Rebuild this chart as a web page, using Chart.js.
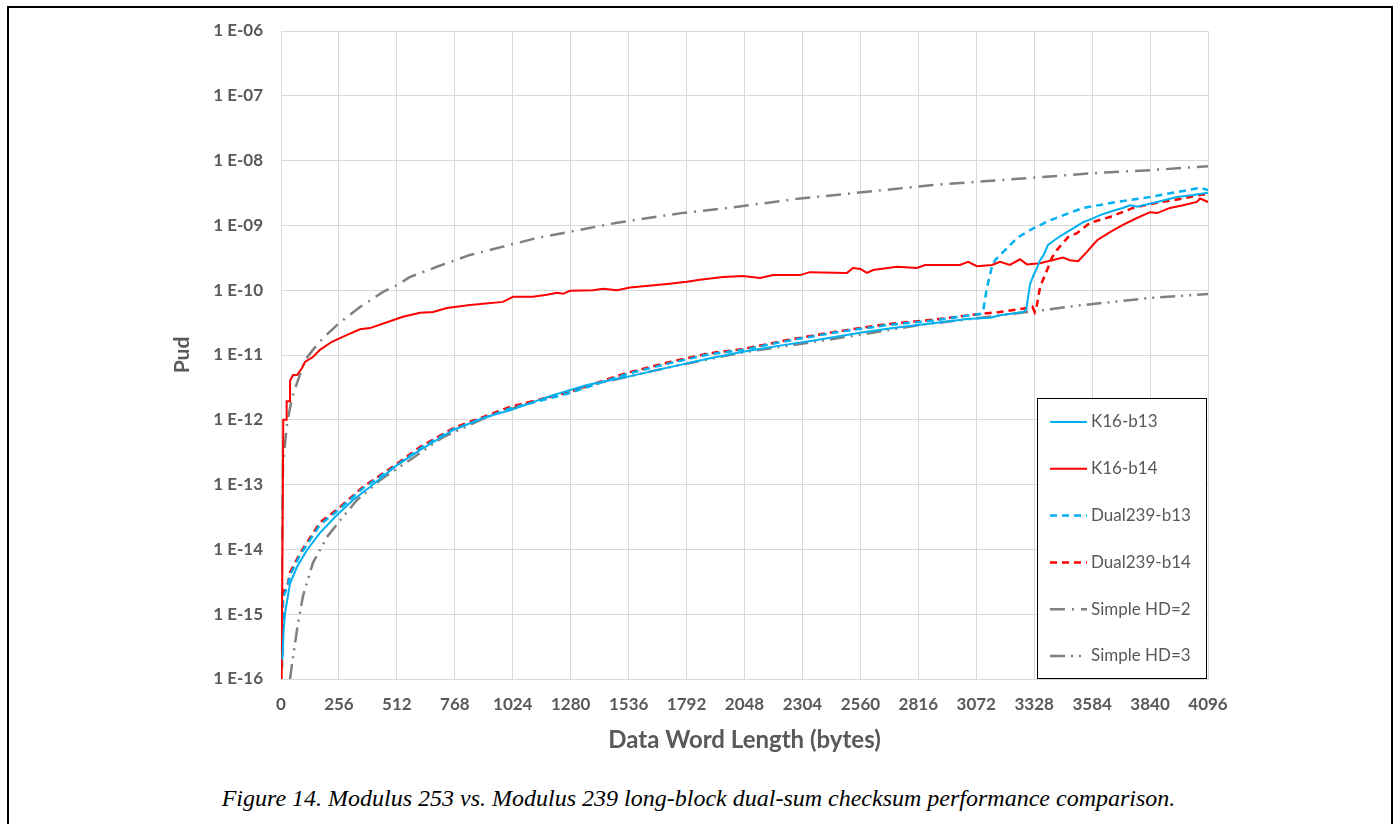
<!DOCTYPE html>
<html>
<head>
<meta charset="utf-8">
<script src="https://cdn.jsdelivr.net/npm/chart.js@4.4.1/dist/chart.umd.min.js"></script>
<style>
  html, body { margin: 0; padding: 0; background: #fff; width: 1397px; height: 824px; overflow: hidden; }
  #frame { position: absolute; left: 7px; top: 6px; width: 1382px; height: 900px; border: 2px solid #000; border-bottom: none; }
  #wrap { position: absolute; left: 0; top: 0; width: 1397px; height: 770px; }
  #caption { position: absolute; left: 0; width: 1397px; top: 785px; text-align: center;
    font-family: "Liberation Serif", "Times New Roman", serif; font-style: italic; font-size: 24px; color: #000; }
</style>
</head>
<body>
<div id="frame"></div>
<div id="wrap"><canvas id="c"></canvas></div>
<div id="caption">Figure 14. Modulus 253 vs. Modulus 239 long-block dual-sum checksum performance comparison.</div>
<script>
// ---------- data ----------
const xTicks = [0,256,512,768,1024,1280,1536,1792,2048,2304,2560,2816,3072,3328,3584,3840,4096];
const xTickLabels = ['0','256','512','768','1024','1280','1536','1792','2048','2304','2560','2816','3072','3328','3584','3840','4096'];
const yTicks = [1e-16,1e-15,1e-14,1e-13,1e-12,1e-11,1e-10,1e-9,1e-8,1e-7,1e-6];
const yTickLabels = ['1 E-16','1 E-15','1 E-14','1 E-13','1 E-12','1 E-11','1 E-10','1 E-09','1 E-08','1 E-07','1 E-06'];
const seriesNames = ['K16-b13','K16-b14','Dual239-b13','Dual239-b14','Simple HD=2','Simple HD=3'];

const k16b13X = [6,12,18,40,71,115,172,247,318,393,513,614,760,893,1012,1202,1352,1529,1719,1896,2041,2218,2368,2558,2704,2881,3031,3133,3177,3279,3293,3300,3310,3325,3340,3354,3370,3389,3420,3451,3500,3544,3580,3619,3680,3720,3750,3782,3871,3959,4030,4096];
const k16b13Y = [2e-16,6e-16,1.05e-15,3.0e-15,5.4e-15,9.8e-15,1.8e-14,3.4e-14,5.8e-14,9.2e-14,2.0e-13,3.4e-13,6.9e-13,1.07e-12,1.4e-12,2.4e-12,3.45e-12,4.6e-12,6.5e-12,8.9e-12,1.12e-11,1.42e-11,1.7e-11,2.2e-11,2.6e-11,3.1e-11,3.6e-11,3.75e-11,4.1e-11,4.6e-11,5.0e-11,7.5e-11,1.25e-10,1.7e-10,2.2e-10,2.9e-10,3.5e-10,5.0e-10,6.0e-10,7.1e-10,9.0e-10,1.12e-9,1.25e-9,1.44e-9,1.7e-9,1.86e-9,2.05e-9,1.95e-9,2.3e-9,2.75e-9,2.95e-9,3.2e-9];

const k16b14X = [3,10,25,25,40,40,53,71,93,106,141,172,225,292,349,393,468,539,614,672,733,835,981,1025,1113,1175,1220,1246,1277,1379,1423,1485,1542,1600,1706,1794,1850,1953,2041,2117,2174,2293,2337,2501,2527,2560,2589,2616,2722,2810,2846,2956,3000,3036,3075,3142,3177,3221,3265,3296,3354,3455,3486,3522,3561,3606,3663,3720,3782,3840,3871,3928,3986,4047,4061,4096];
const k16b14Y = [1e-16,1e-12,1e-12,1.94e-12,1.94e-12,4.0e-12,4.9e-12,4.9e-12,6.3e-12,7.8e-12,9.3e-12,1.2e-11,1.6e-11,2.04e-11,2.5e-11,2.6e-11,3.2e-11,3.9e-11,4.5e-11,4.6e-11,5.3e-11,5.9e-11,6.6e-11,7.9e-11,7.9e-11,8.5e-11,9.1e-11,8.8e-11,9.8e-11,1.0e-10,1.05e-10,1.0e-10,1.1e-10,1.15e-10,1.25e-10,1.35e-10,1.45e-10,1.6e-10,1.65e-10,1.54e-10,1.71e-10,1.71e-10,1.9e-10,1.85e-10,2.2e-10,2.13e-10,1.85e-10,2.05e-10,2.3e-10,2.2e-10,2.45e-10,2.45e-10,2.45e-10,2.75e-10,2.35e-10,2.45e-10,2.75e-10,2.45e-10,3.0e-10,2.5e-10,2.6e-10,3.2e-10,2.9e-10,2.8e-10,3.9e-10,5.9e-10,7.9e-10,1.02e-9,1.3e-9,1.6e-9,1.55e-9,1.86e-9,2.05e-9,2.3e-9,2.6e-9,2.3e-9];

const dual13X = [4,9,31,40,84,172,247,362,513,614,760,1012,1277,1529,1719,1896,2041,2236,2439,2678,2881,3000,3089,3102,3110,3120,3140,3155,3177,3210,3252,3310,3398,3544,3694,3840,3986,4061,4096];
const dual13Y = [1.5e-16,1.8e-15,2.8e-15,4.0e-15,8.2e-15,2.4e-14,3.9e-14,8.8e-14,2.0e-13,3.6e-13,7.1e-13,1.5e-12,2.6e-12,5.1e-12,7.5e-12,1.03e-11,1.2e-11,1.65e-11,2.2e-11,2.9e-11,3.4e-11,3.9e-11,4.3e-11,4.6e-11,7e-11,1.12e-10,2.2e-10,2.9e-10,3.5e-10,4.5e-10,6.4e-10,8.5e-10,1.2e-9,1.86e-9,2.3e-9,2.75e-9,3.4e-9,3.8e-9,3.5e-9];

const dual14X = [4,9,31,40,84,172,247,362,513,614,760,1012,1277,1529,1719,1896,2041,2236,2439,2678,2881,3089,3177,3296,3320,3330,3340,3354,3385,3407,3429,3478,3517,3575,3663,3765,3871,3986,4061,4096];
const dual14Y = [1.5e-16,2.1e-15,3.0e-15,4.4e-15,8.7e-15,2.6e-14,4.1e-14,9.2e-14,2.1e-13,3.8e-13,7.4e-13,1.58e-12,2.7e-12,5.3e-12,7.8e-12,1.07e-11,1.23e-11,1.7e-11,2.25e-11,3.0e-11,3.5e-11,4.3e-11,4.6e-11,5.3e-11,5.6e-11,4.6e-11,5.9e-11,1.12e-10,2.05e-10,3.2e-10,4.2e-10,6.6e-10,7.6e-10,1.1e-9,1.35e-9,1.86e-9,2.24e-9,2.6e-9,2.96e-9,3.0e-9];

const hd2X = [1,2,4,9,27,49,75,106,141,186,261,349,451,513,570,689,835,981,1131,1277,1485,1776,1997,2293,2589,2881,3177,3619,3840,4096];
const hd2Y = [5e-16,2e-15,9.8e-15,2.1e-13,8.9e-13,2.2e-12,4.1e-12,8.3e-12,1.2e-11,1.83e-11,3.2e-11,5.5e-11,9.4e-11,1.2e-10,1.6e-10,2.3e-10,3.5e-10,4.7e-10,6.4e-10,8.0e-10,1.1e-9,1.56e-9,1.9e-9,2.6e-9,3.3e-9,4.2e-9,5.0e-9,6.5e-9,7.1e-9,8.2e-9];

const hd3X = [40,44,71,97,141,203,261,336,437,570,716,910,1131,1423,1719,2041,2307,2558,2823,3075,3296,3544,3840,4096];
const hd3Y = [1e-16,1.3e-16,5.8e-16,1.9e-15,6.2e-15,1.55e-14,2.8e-14,5.8e-14,1.17e-13,2.4e-13,5.4e-13,1.1e-12,2.0e-12,3.8e-12,6.5e-12,1.1e-11,1.5e-11,2.05e-11,2.9e-11,3.7e-11,4.6e-11,5.9e-11,7.6e-11,8.7e-11];

// ---------- helpers ----------
const pts = (xs, ys) => xs.map((x, i) => ({ x: x, y: ys[i] }));
const BLUE = '#00B0F0', RED = '#FF0000', GRAY = '#808080', TXT = '#595959';

const datasets = [
  { label: seriesNames[0], data: pts(k16b13X, k16b13Y), borderColor: BLUE, borderWidth: 2, borderDash: [] },
  { label: seriesNames[1], data: pts(k16b14X, k16b14Y), borderColor: RED, borderWidth: 2, borderDash: [] },
  { label: seriesNames[2], data: pts(dual13X, dual13Y), borderColor: BLUE, borderWidth: 2.5, borderDash: [7, 5] },
  { label: seriesNames[3], data: pts(dual14X, dual14Y), borderColor: RED, borderWidth: 2.5, borderDash: [7, 5] },
  { label: seriesNames[4], data: pts(hd2X, hd2Y), borderColor: GRAY, borderWidth: 2.5, borderDash: [15, 7, 2, 7] },
  { label: seriesNames[5], data: pts(hd3X, hd3Y), borderColor: GRAY, borderWidth: 2.5, borderDash: [15, 6, 2, 6, 2, 6] }
].map(d => Object.assign(d, { pointRadius: 0, tension: 0, fill: false, backgroundColor: d.borderColor }));

// custom boxed legend inside the plot area
const boxLegend = {
  id: 'boxLegend',
  afterDatasetsDraw(chart) {
    const ctx = chart.ctx, a = chart.chartArea;
    const x0 = a.right - 171, y0 = a.bottom - 281, w = 169, h = 280;
    ctx.save();
    ctx.fillStyle = '#fff';
    ctx.fillRect(x0, y0, w, h);
    ctx.strokeStyle = '#000';
    ctx.lineWidth = 1;
    ctx.strokeRect(x0 + 0.5, y0 + 0.5, w, h);
    ctx.font = '17px Lato';
    ctx.textBaseline = 'middle';
    chart.data.datasets.forEach((ds, i) => {
      const y = y0 + 24 + i * 46.8;
      ctx.strokeStyle = ds.borderColor;
      ctx.lineWidth = ds.borderWidth;
      ctx.setLineDash(ds.borderDash);
      ctx.beginPath();
      ctx.moveTo(x0 + 13, y);
      ctx.lineTo(x0 + 50, y);
      ctx.stroke();
      ctx.setLineDash([]);
      ctx.fillStyle = TXT;
      ctx.fillText(ds.label, x0 + 54, y);
    });
    ctx.restore();
  }
};

Chart.defaults.font.family = 'Lato';
Chart.defaults.color = TXT;

new Chart(document.getElementById('c'), {
  type: 'line',
  data: { datasets: datasets },
  plugins: [boxLegend],
  options: {
    responsive: true,
    maintainAspectRatio: false,
    animation: false,
    layout: { padding: { left: 160, top: 31, right: 189, bottom: 10 } },
    plugins: { legend: { display: false }, tooltip: { enabled: false } },
    scales: {
      x: {
        type: 'linear', min: 0, max: 4096,
        afterBuildTicks: s => { s.ticks = xTicks.map(v => ({ value: v })); },
        afterFit: s => { s.height = 81; },
        grid: { color: '#D9D9D9', drawTicks: false },
        border: { color: '#D9D9D9' },
        ticks: { padding: 15, color: TXT, font: { size: 17, weight: 'bold' }, maxRotation: 0, autoSkip: false,
          callback: (v, i) => xTickLabels[i] },
        title: { display: true, text: 'Data Word Length (bytes)', color: TXT, font: { size: 24, weight: 'bold' }, padding: { top: 0, bottom: 5 } }
      },
      y: {
        type: 'logarithmic', min: 1e-16, max: 1e-6,
        afterBuildTicks: s => { s.ticks = yTicks.map(v => ({ value: v })); },
        afterFit: s => { s.width = 121; },
        grid: { color: '#D9D9D9', drawTicks: false },
        border: { color: '#D9D9D9' },
        ticks: { padding: 18, color: TXT, font: { size: 17, weight: 'bold' }, autoSkip: false,
          callback: (v, i) => yTickLabels[i] },
        title: { display: true, text: 'Pud', color: TXT, font: { size: 21, weight: 'bold' }, padding: { top: 10, bottom: 0 } }
      }
    }
  }
});
</script>
</body>
</html>
